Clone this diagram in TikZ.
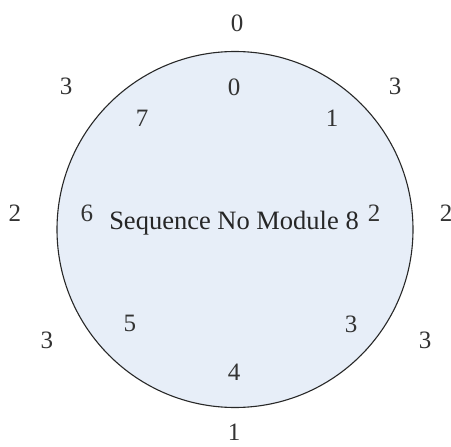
\documentclass[tikz,border=0pt]{standalone}
\usepackage{fontspec}
\setmainfont{Liberation Serif}
\usepackage{xcolor}
\usetikzlibrary{positioning}
\definecolor{ringfill}{RGB}{231,238,248}
\definecolor{ringline}{RGB}{40,40,40}

\begin{document}
\begin{tikzpicture}[
    x=1pt, y=-1pt,
    ring/.style={circle, draw=ringline, line width=1.1pt, fill=ringfill, inner sep=0pt, minimum size=356pt},
    digit/.style={inner sep=0pt, font=\fontsize{25}{30}\selectfont, text=black!85},
    seqno/.style={digit, text=black!80},
    outer/.style={digit, text=black!80},
    caption/.style={inner sep=0pt, anchor=base, font=\fontsize{26.5}{32}\selectfont, text=black!85},
  ]
    \useasboundingbox (0,0) rectangle (451,447);

    % Ring
    \node[ring] (ring) at (235,229.5) {};
    \node[caption] (title) at (234,229) {Sequence No Module 8};

    % Sequence numbers (inside)
    \node[seqno] (s0) at (234,87) {0};
    \node[seqno] (s1) at (332,118) {1};
    \node[seqno] (s2) at (374,213) {2};
    \node[seqno] (s3) at (351,324) {3};
    \node[seqno] (s4) at (234,372) {4};
    \node[seqno] (s5) at (130,323) {5};
    \node[seqno] (s6) at (87,213) {6};
    \node[seqno] (s7) at (142,118) {7};

    % Counts (outside)
    \node[outer] (c0) at (237,23) {0};
    \node[outer] (c1) at (395,86) {3};
    \node[outer] (c2) at (446,213) {2};
    \node[outer] (c3) at (425,340) {3};
    \node[outer] (c4) at (234,432) {1};
    \node[outer] (c5) at (47,340) {3};
    \node[outer] (c6) at (15,213) {2};
    \node[outer] (c7) at (66,86) {3};
  \end{tikzpicture}
\end{document}
